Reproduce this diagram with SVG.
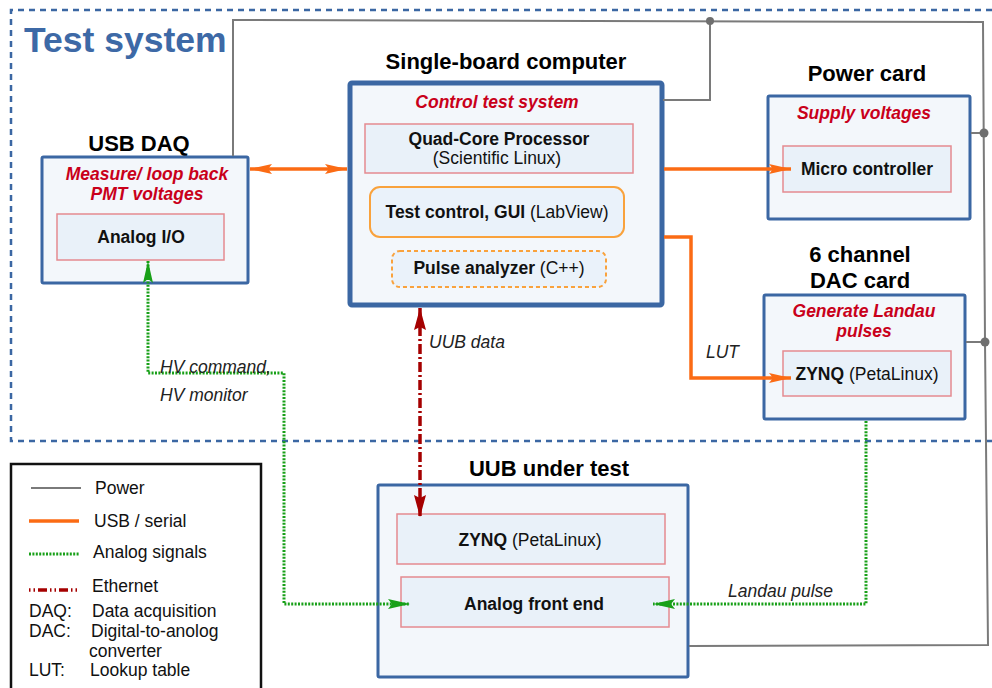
<svg xmlns="http://www.w3.org/2000/svg" width="992" height="688" viewBox="0 0 992 688">
<defs>
<style>
text{font-family:"Liberation Sans",Arial,sans-serif;}
.title{font-size:22px;font-weight:bold;fill:#000;text-anchor:middle;}
.node{font-size:17.5px;font-weight:bold;fill:#111;text-anchor:middle;}
.reg{font-weight:normal;}
.role{font-size:17.5px;font-weight:bold;font-style:italic;fill:#c9001a;text-anchor:middle;}
.lbl{font-size:17.5px;font-style:italic;fill:#222;}
.leg{font-size:17.5px;fill:#111;}
.outer{fill:#f3f7fb;stroke:#3b67a3;stroke-width:3;}
.inner{fill:#e9f1f9;stroke:#e58a90;stroke-width:1.5;}
.pw{fill:none;stroke:#7a7a7a;stroke-width:2;}
.usb{fill:none;stroke:#fb6b14;stroke-width:3.5;}
.ana{fill:none;stroke:#18a018;stroke-width:3;stroke-dasharray:2,1.4;}
.eth{fill:none;stroke:#a50000;stroke-width:3.5;stroke-dasharray:10,3,2,3;}
</style>
<marker id="ao" markerUnits="userSpaceOnUse" markerWidth="24" markerHeight="12" refX="22" refY="5" orient="auto-start-reverse"><path d="M0,0 L22,5 L0,10 L4,5 z" fill="#fb6b14"/></marker>
<marker id="ag" markerUnits="userSpaceOnUse" markerWidth="24" markerHeight="12" refX="22" refY="5" orient="auto-start-reverse"><path d="M0,0 L22,5 L0,10 L4,5 z" fill="#18a018"/></marker>
<marker id="ar" markerUnits="userSpaceOnUse" markerWidth="24" markerHeight="14" refX="22" refY="6" orient="auto-start-reverse"><path d="M0,0 L22,6 L0,12 L3,6 z" fill="#a50000"/></marker>
</defs>
<rect width="992" height="688" fill="#fff"/>

<!-- Test system region -->
<g id="test-system">
<path d="M992,10 H11 V441 H992" fill="none" stroke="#3b67a3" stroke-width="2.5" stroke-dasharray="6,5"/>
<text x="24" y="52" style="font-size:35.5px;font-weight:bold;fill:#3d69a6;">Test system</text>
</g>

<!-- USB DAQ -->
<g id="usb-daq">
<text class="title" x="139" y="151">USB DAQ</text>
<rect class="outer" x="42" y="157" width="206" height="126" rx="1.5"/>
<text class="role" x="147" y="180">Measure/ loop back</text>
<text class="role" x="147" y="200">PMT voltages</text>
<rect class="inner" x="57" y="214" width="167" height="46"/>
<text class="node" x="141" y="243">Analog I/O</text>
</g>

<!-- Single-board computer -->
<g id="sbc">
<text class="title" x="506" y="69">Single-board computer</text>
<rect class="outer" x="350" y="83" width="312" height="222" rx="2" style="stroke-width:5"/>
<text class="role" x="497" y="108">Control test system</text>
<rect class="inner" x="365" y="124" width="268" height="49"/>
<text class="node" x="499" y="145">Quad-Core Processor</text>
<text class="node reg" x="497" y="164">(Scientific Linux)</text>
<rect x="370" y="187" width="254" height="50" rx="10" fill="#eaf2fa" stroke="#f9a23c" stroke-width="2"/>
<text class="node" x="497" y="218">Test control, GUI <tspan class="reg">(LabView)</tspan></text>
<rect x="392" y="251" width="214" height="36" rx="8" fill="#eaf2fa" stroke="#f9a23c" stroke-width="2" stroke-dasharray="4,3"/>
<text class="node" x="499" y="274">Pulse analyzer <tspan class="reg">(C++)</tspan></text>
</g>

<!-- Power card -->
<g id="power-card">
<text class="title" x="867" y="81">Power card</text>
<rect class="outer" x="768" y="96" width="202" height="123" rx="1.5"/>
<text class="role" x="864" y="119">Supply voltages</text>
<rect class="inner" x="783" y="146" width="168" height="46"/>
<text class="node" x="867" y="175">Micro controller</text>
</g>

<!-- DAC card -->
<g id="dac-card">
<text class="title" x="860" y="262">6 channel</text>
<text class="title" x="860" y="288">DAC card</text>
<rect class="outer" x="764" y="295" width="201" height="124" rx="1.5"/>
<text class="role" x="864" y="317">Generate Landau</text>
<text class="role" x="864" y="337">pulses</text>
<rect class="inner" x="783" y="351" width="168" height="45"/>
<text class="node" x="867" y="380">ZYNQ <tspan class="reg">(PetaLinux)</tspan></text>
</g>

<!-- UUB under test -->
<g id="uub">
<text class="title" x="549" y="476">UUB under test</text>
<rect class="outer" x="378" y="485" width="310" height="192" rx="1.5"/>
<rect class="inner" x="397" y="514" width="268" height="50"/>
<text class="node" x="530" y="546">ZYNQ <tspan class="reg">(PetaLinux)</tspan></text>
<rect class="inner" x="401" y="577" width="268" height="50"/>
<text class="node" x="534" y="610">Analog front end</text>
</g>

<!-- Connectors -->
<g id="connectors">
<polyline class="pw" points="233,156 233,20 983,22 985,342 988,645 689,646"/>
<polyline class="pw" points="663,100 710,100 710,21"/>
<line class="pw" x1="971" y1="133" x2="984" y2="133"/>
<line class="pw" x1="966" y1="342" x2="985" y2="342"/>
<circle cx="710" cy="21" r="4" fill="#6f6f6f"/>
<circle cx="984" cy="133" r="4.5" fill="#6f6f6f"/>
<circle cx="985" cy="342" r="4.5" fill="#6f6f6f"/>

<line class="usb" x1="250" y1="169" x2="347" y2="169" marker-start="url(#ao)" marker-end="url(#ao)"/>
<line class="usb" x1="664" y1="169" x2="791" y2="169" marker-end="url(#ao)"/>
<polyline class="usb" points="664,237 691,237 691,378 791,378" marker-end="url(#ao)"/>

<line class="eth" x1="420" y1="308" x2="420" y2="517" marker-start="url(#ar)" marker-end="url(#ar)"/>

<polyline class="ana" points="148,261 148,373 284,373 284,604 410,604" marker-start="url(#ag)" marker-end="url(#ag)"/>
<polyline class="ana" points="866,421 866,604 653,604" marker-end="url(#ag)"/>

<text class="lbl" x="706" y="358">LUT</text>
<text class="lbl" x="429" y="348">UUB data</text>
<text class="lbl" x="160" y="373">HV command,</text>
<text class="lbl" x="160" y="401">HV monitor</text>
<text class="lbl" x="728" y="597">Landau pulse</text>
</g>

<!-- Legend -->
<g id="legend">
<rect x="11" y="464" width="250" height="230" fill="#fff" stroke="#111" stroke-width="2.5"/>
<line x1="31" y1="488" x2="81" y2="488" stroke="#7a7a7a" stroke-width="2"/>
<text class="leg" x="95" y="494">Power</text>
<line x1="29" y1="521" x2="79" y2="521" stroke="#fb6b14" stroke-width="3.5"/>
<text class="leg" x="94" y="527">USB / serial</text>
<line x1="29" y1="554" x2="79" y2="554" stroke="#18a018" stroke-width="3" stroke-dasharray="2,1.4"/>
<text class="leg" x="93" y="558">Analog signals</text>
<line x1="29" y1="590" x2="79" y2="590" stroke="#a50000" stroke-width="3.5" stroke-dasharray="1.5,3,1.5,3,9,3"/>
<text class="leg" x="92" y="592">Ethernet</text>
<text class="leg" x="29" y="617">DAQ:</text>
<text class="leg" x="92" y="617">Data acquisition</text>
<text class="leg" x="29" y="637">DAC:</text>
<text class="leg" x="91" y="637">Digital-to-anolog</text>
<text class="leg" x="89" y="657">converter</text>
<text class="leg" x="29" y="676">LUT:</text>
<text class="leg" x="90" y="676">Lookup table</text>
</g>
</svg>
